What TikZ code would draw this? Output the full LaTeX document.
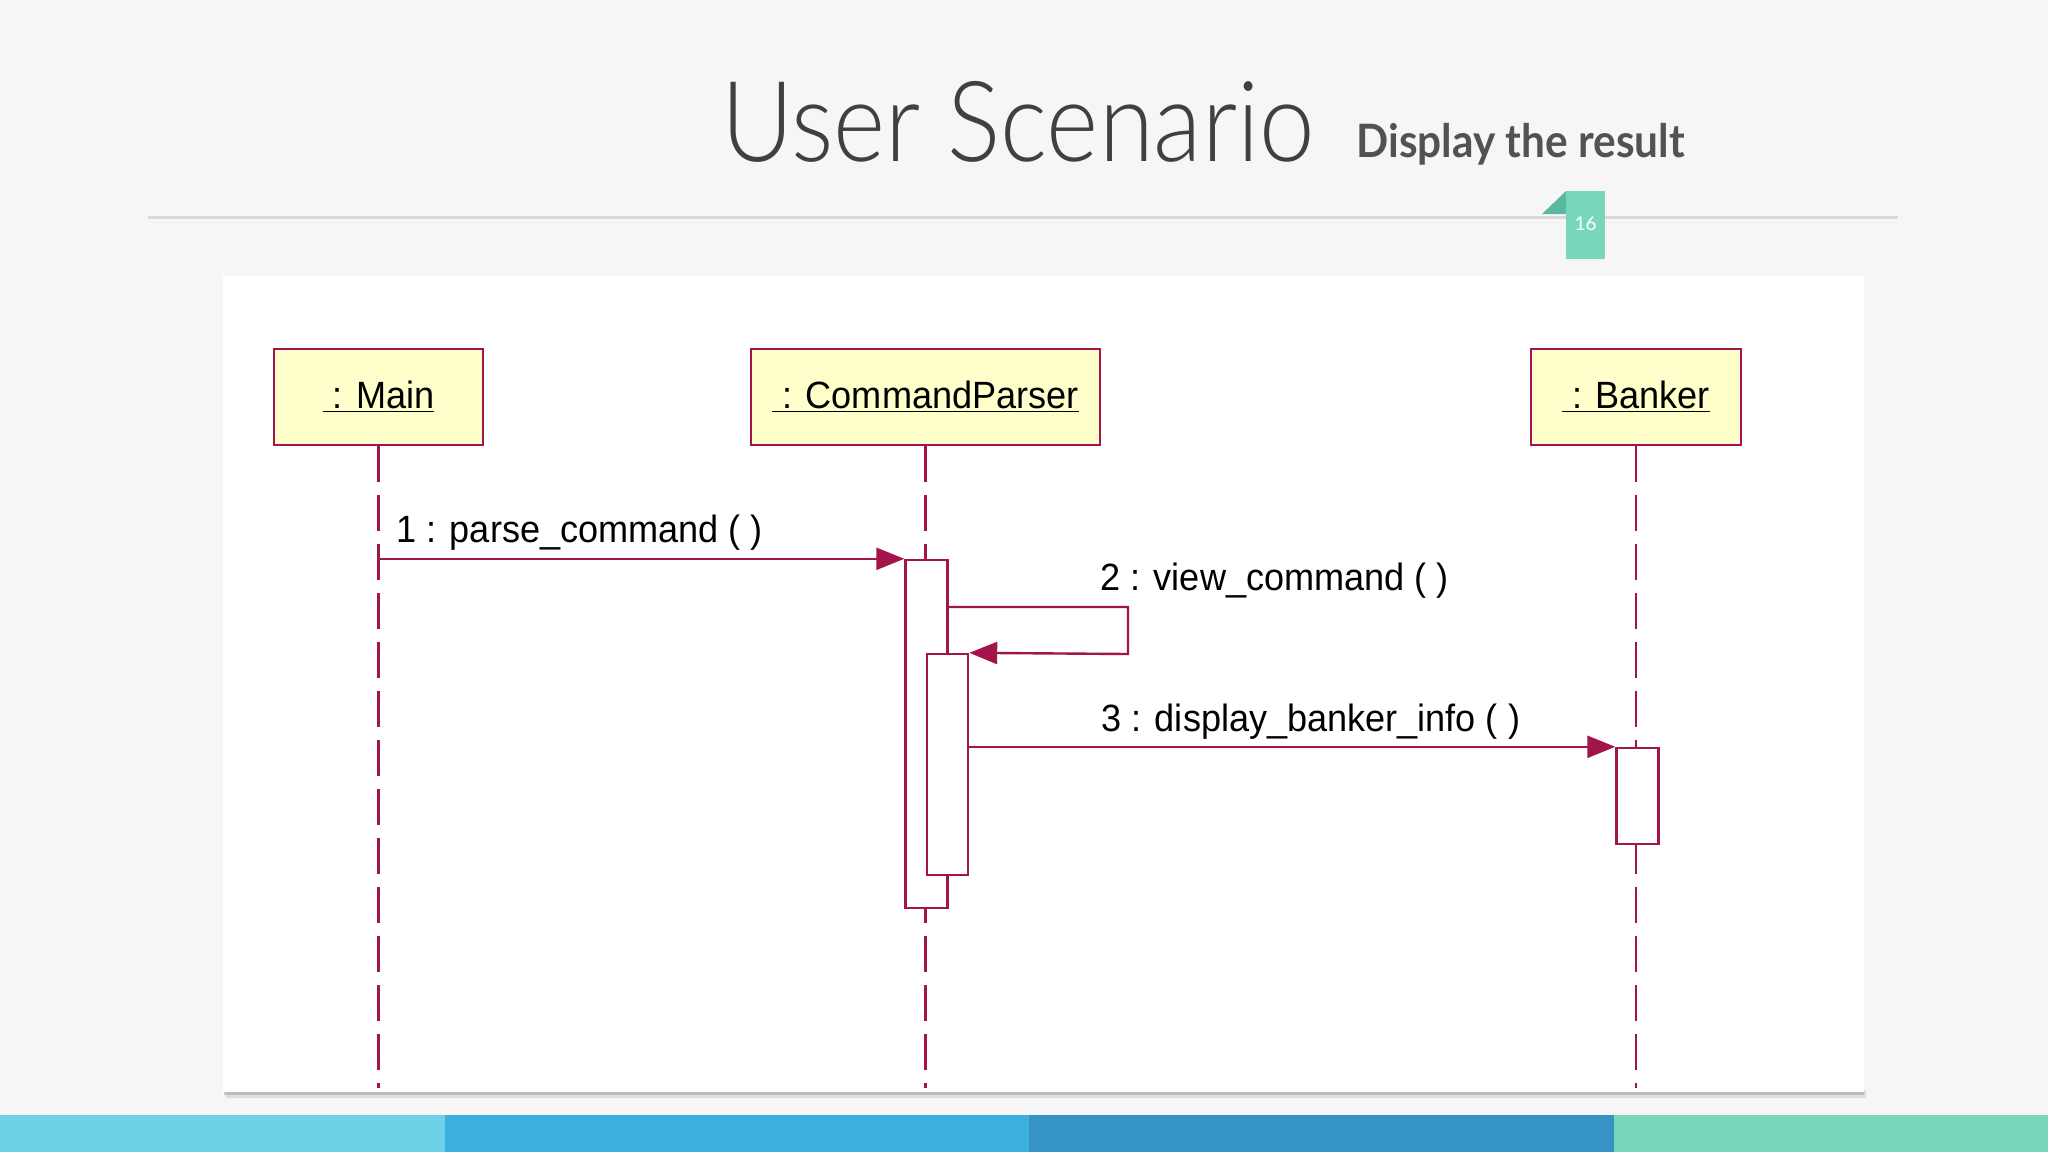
\documentclass[tikz,border=0pt]{standalone}
\usepackage{fontspec}
\setmainfont{Liberation Sans}
\newfontfamily\titlefont[FakeStretch=0.89]{Lato Light}
\newfontfamily\subfont[FakeStretch=0.92]{Lato}
\newfontfamily\tagfont{Lato}
\newfontfamily\umlfont[FakeStretch=0.95]{Liberation Sans}
\usetikzlibrary{arrows.meta}
\definecolor{bgc}{HTML}{F6F6F7}
\definecolor{maroon}{HTML}{A3154A}
\definecolor{umlfill}{HTML}{FFFFCC}
\definecolor{tagc}{HTML}{78D6BA}
\definecolor{foldc}{HTML}{5BB8A0}
\definecolor{barA}{HTML}{6DD2E8}
\definecolor{barB}{HTML}{3EB0E0}
\definecolor{barC}{HTML}{3594C4}
\definecolor{barD}{HTML}{77D7BB}
\tikzset{
  umlbox/.style={draw=maroon, line width=1.3pt, fill=umlfill, inner sep=0pt, font=\umlfont\fontsize{19}{22}\selectfont},
  actbox/.style={draw=maroon, line width=1.2pt, fill=white, inner sep=0pt, minimum width=21pt},
  lifeline/.style={draw=maroon, line width=1.3pt, dash pattern=on 18pt off 6.5pt},
  msg/.style={draw=maroon, line width=1.2pt, -{Triangle[length=14pt,width=11pt]}},
  msglabel/.style={anchor=base west, inner sep=0pt, font=\umlfont\fontsize{19}{22}\selectfont},
}
\begin{document}
\begin{tikzpicture}[x=0.5pt, y=-0.5pt]
\useasboundingbox (0,0) rectangle (2048,1152);
\fill[bgc] (0,0) rectangle (2048,1152);
% title
\node[anchor=base west, inner sep=0pt, text=black!75, font=\titlefont\fontsize{56}{60}\selectfont] (title) at (721,161) {User Scenario};
\node[anchor=base west, inner sep=0pt, text=black!68, font=\subfont\bfseries\fontsize{23}{26}\selectfont] (sub) at (1356,157) {Display the result};
\draw[black!15, line width=1.5pt] (148,217) -- (1898,217);
% tag
\fill[foldc] (1542,214) -- (1566,191) -- (1566,214) -- cycle;
\fill[tagc] (1566,191) rectangle (1605,259);
\node[text=white, inner sep=0pt, font=\tagfont\fontsize{9.5}{10}\selectfont] (num) at (1585.5,224) {16};
% panel with shadow
\fill[black!30, opacity=0.35] (226,1090) rectangle (1866,1098);
\fill[black!40, opacity=0.5] (224,1090) rectangle (1864,1095);
\fill[white] (223,276) rectangle (1864,1092);
% bottom bars
\fill[barA] (0,1115) rectangle (445,1152);
\fill[barB] (445,1115) rectangle (1029,1152);
\fill[barC] (1029,1115) rectangle (1614,1152);
\fill[barD] (1614,1115) rectangle (2048,1152);
% objects
\node[umlbox, minimum width=104.5pt, minimum height=48pt] (main) at (378.5,397) {\underline{\ : Main}};
\node[umlbox, minimum width=174.5pt, minimum height=48pt] (cp) at (925.5,397) {\underline{\ : CommandParser}};
\node[umlbox, minimum width=105pt, minimum height=48pt] (bk) at (1636,397) {\underline{\ : Banker}};
\coordinate (lend) at (0,1088);
\draw[lifeline] (main.south) -- (main.south |- lend);
\draw[lifeline] (cp.south) -- (cp.south |- lend);
\draw[lifeline] (bk.south) -- (bk.south |- lend);
% activations
\node[actbox, minimum height=174pt] (act1) at (926.5,734) {};
\node[actbox, minimum width=20.5pt, minimum height=110.5pt] (act2) at (947.5,764.5) {};
\node[actbox, minimum height=48pt] (act3) at (1637.5,796) {};
% messages
\draw[msg] (main.south |- act1.north west) -- (act1.north west);
\node[msglabel] (l1) at (396,542) {1 : parse\_command ( )};
\coordinate (self1) at (1128,607);
\coordinate (self2) at (1128,654);
\draw[msg] (act1.east |- self1) -- (self1) -- (self2) -- (act2.north east);
\node[msglabel] (l2) at (1100,590) {2 : view\_command ( )};
\draw[msg] (act2.east |- act3.north west) -- (act3.north west);
\node[msglabel] (l3) at (1101,731) {3 : display\_banker\_info ( )};
\end{tikzpicture}
\end{document}
